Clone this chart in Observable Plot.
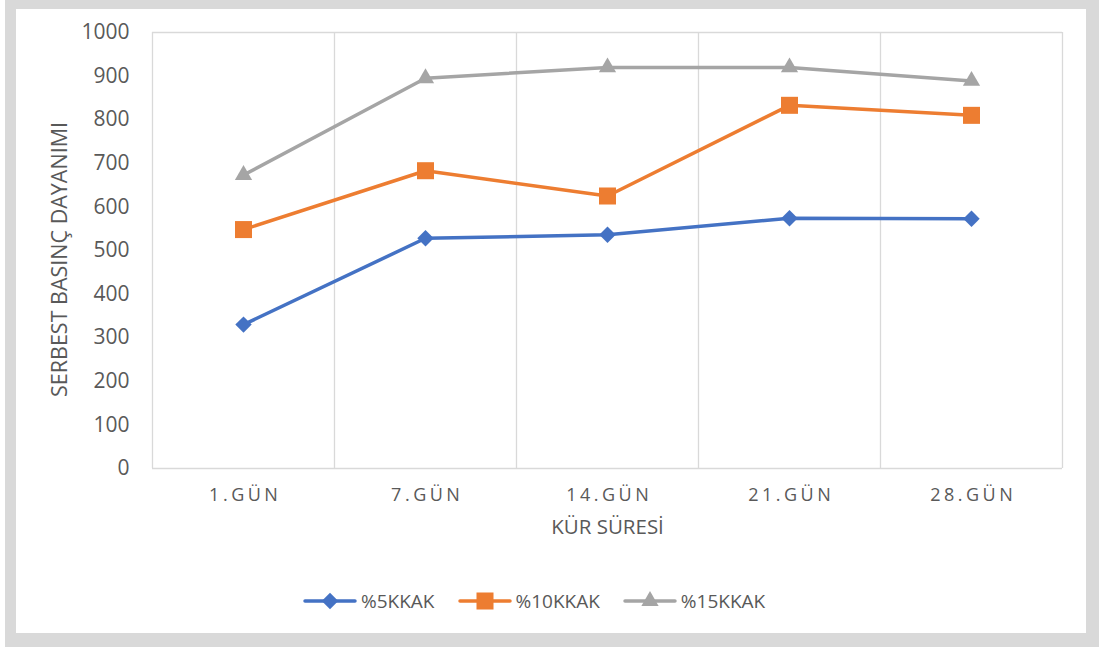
<!DOCTYPE html>
<html>
<head>
<meta charset="utf-8">
<script src="https://cdn.jsdelivr.net/npm/d3@7"></script>
<script src="https://cdn.jsdelivr.net/npm/@observablehq/plot@0.6"></script>
<style>
  html, body { margin: 0; padding: 0; background: #fff; width: 1099px; height: 650px; overflow: hidden; }
  #frame { position: absolute; left: 5px; top: 0px; width: 1094px; height: 647px; box-sizing: border-box;
           border-style: solid; border-color: #d9d9d9; border-width: 9px 13px 14px 11px; }
  #chart { position: absolute; left: 0; top: 0; }
  #legend { position: absolute; left: 303px; top: 588px; display: flex; align-items: center;
            font-family: "Open Sans", sans-serif; font-size: 19px; color: #595959; }
  .item { display: flex; align-items: center; margin-right: 23px; }
  .item svg { margin-right: 4px; }
</style>
</head>
<body>
<div id="frame"></div>
<div id="chart"></div>
<div id="legend"></div>
<script>
const categories = ["1.GÜN", "7.GÜN", "14.GÜN", "21.GÜN", "28.GÜN"];
const seriesNames = ["%5KKAK", "%10KKAK", "%15KKAK"];
const values5 = [330, 528, 536, 574, 573];
const values10 = [548, 683, 625, 833, 810];
const values15 = [673, 895, 920, 920, 889];
const yTicks = [0, 100, 200, 300, 400, 500, 600, 700, 800, 900, 1000];
const colors = ["#4472C4", "#ED7D31", "#A5A5A5"];
const symbols = ["diamond2", "square", "triangle"];
const radii = [7.4, 9.6, 6.4];
const yTitle = "SERBEST BASINÇ DAYANIMI";
const xTitle = "KÜR SÜRESİ";

const seriesValues = [values5, values10, values15];
const rows = [];
seriesNames.forEach((s, k) => seriesValues[k].forEach((v, i) => rows.push({series: s, i: i + 0.5, value: v})));
const bounds = d3.range(categories.length + 1);

const marks = [
  Plot.ruleX(bounds, {stroke: "#d9d9d9", strokeWidth: 1.3}),
  Plot.ruleY([0, 1000], {stroke: "#d9d9d9", strokeWidth: 1.3}),
  Plot.axisY({ticks: yTicks, tickFormat: d => String(d), tickSize: 0, tickPadding: 23, fontSize: 21, label: null}),
  Plot.axisX({ticks: categories.map((_, i) => i + 0.5), tickFormat: d => categories[Math.floor(d)],
              tickSize: 0, tickPadding: 20, fontSize: 18, label: null}),
  Plot.line(rows, {x: "i", y: "value", z: "series", stroke: "series", strokeWidth: 3.5}),
  Plot.text([yTitle], {frameAnchor: "left", textAnchor: "middle", rotate: -90, dx: -92, dy: 9, fontSize: 21.5, fill: "#595959"}),
  Plot.text([xTitle], {frameAnchor: "bottom", textAnchor: "middle", dy: 65, fontSize: 20.5, fill: "#595959"})
];
seriesNames.forEach((s, k) => {
  marks.push(Plot.dot(rows.filter(d => d.series === s), {x: "i", y: "value", fill: colors[k], symbol: symbols[k], r: radii[k], stroke: "none"}));
});

const chart = Plot.plot({
  width: 1099,
  height: 560,
  marginLeft: 152,
  marginRight: 37,
  marginTop: 32,
  marginBottom: 92,
  style: {fontFamily: "Open Sans, sans-serif", color: "#595959", background: "transparent", overflow: "visible"},
  x: {type: "linear", domain: [0, categories.length]},
  y: {domain: [0, 1000]},
  color: {domain: seriesNames, range: colors},
  marks
});
d3.select(chart).selectAll('g[aria-label="x-axis tick label"] text').style("letter-spacing", "3.5px").attr("dx", "1.75");
document.getElementById("chart").appendChild(chart);

const legend = d3.select("#legend");
seriesNames.forEach((s, k) => {
  const item = legend.append("div").attr("class", "item");
  const sv = item.append("svg").attr("width", 54).attr("height", 22);
  sv.append("line").attr("x1", 2).attr("x2", 52).attr("y1", 11).attr("y2", 11)
    .attr("stroke", colors[k]).attr("stroke-width", 3.5).attr("stroke-linecap", "round");
  const sym = {diamond2: d3.symbolDiamond2, square: d3.symbolSquare, triangle: d3.symbolTriangle}[symbols[k]];
  sv.append("path").attr("transform", "translate(27,11)")
    .attr("d", d3.symbol(sym, Math.PI * radii[k] * radii[k])()).attr("fill", colors[k]);
  item.append("span").text(s);
});
</script>
</body>
</html>
